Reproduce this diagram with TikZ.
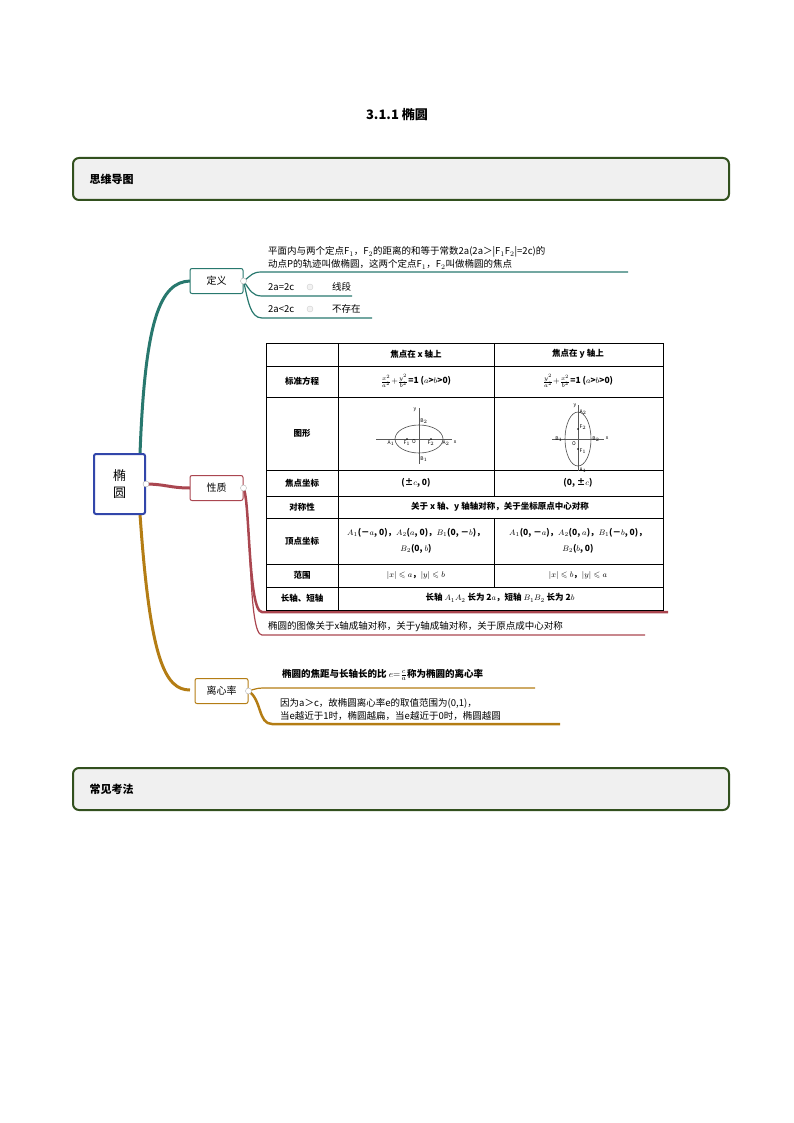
\documentclass[tikz,border=0pt]{standalone}
\usepackage{amssymb}
\usepackage{fontspec}
\setmainfont{Noto Sans CJK SC}
\usetikzlibrary{arrows.meta}
\definecolor{hdr}{RGB}{50,80,30}
\definecolor{teal1}{RGB}{40,120,110}
\definecolor{red1}{RGB}{170,70,80}
\definecolor{gold1}{RGB}{180,125,20}
\definecolor{blue1}{RGB}{50,70,170}
\tikzset{
 hbox/.style={draw=hdr,line width=2pt,rounded corners=6pt,fill=gray!12},
 kid/.style={draw=#1,line width=1pt,rounded corners=2pt,fill=white,minimum width=53pt,minimum height=25pt,font=\fontsize{10}{12}\selectfont},
 txt/.style={anchor=west,font=\fontsize{9.5}{13}\selectfont,inner sep=0pt,align=left},
 tb/.style={font=\fontsize{8.5}{10}\selectfont\bfseries,inner sep=0pt},
 lab/.style={font=\fontsize{5}{6}\selectfont\itshape,inner sep=0pt},
}
\begin{document}
\begin{tikzpicture}[x=1pt,y=-1pt]
\useasboundingbox (0,0) rectangle (794,1123);
\node[font=\fontsize{13}{15}\selectfont\bfseries] (title) at (397,115) {3.1.1 椭圆};
\draw[hbox] (73,158) rectangle (729,200);
\node[anchor=west,font=\fontsize{11}{13}\selectfont\bfseries] (h1) at (86,179) {思维导图};
\draw[hbox] (73,768) rectangle (729,810);
\node[anchor=west,font=\fontsize{11}{13}\selectfont\bfseries] (h2) at (86,789) {常见考法};
% branches
\coordinate (cT) at (140,454);
\coordinate (cM) at (145,484);
\coordinate (cB) at (140,514);
\draw[teal1,line width=3pt] (cT) .. controls (145,320) and (160,282) .. (190,281);
\draw[red1,line width=3pt] (cM) .. controls (165,484) and (170,488) .. (190,488);
\draw[gold1,line width=3pt] (cB) .. controls (150,660) and (165,690) .. (190,690);
\node[draw=blue1,line width=2pt,rounded corners=2pt,fill=white,minimum width=51pt,minimum height=60pt,align=center,font=\fontsize{13}{17}\selectfont] (root) at (119.5,484) {椭\\圆};
\node[kid=teal1] (dy) at (216.5,281) {定义};
\node[kid=red1] (xz) at (216.5,488) {性质};
\node[kid=gold1] (lxl) at (221.5,691) {离心率};
\draw[gray!70,fill=white] (root.east) circle (3pt);
% definition sub
\draw[teal1,line width=1.2pt] (dy.east) .. controls (252,275) and (252,272) .. (262,272) -- (628,272);
\draw[teal1,line width=1.2pt] (dy.east) .. controls (250,290) and (252,296) .. (262,296) -- (352,296);
\draw[teal1,line width=1.2pt] (dy.east) .. controls (248,300) and (250,318) .. (262,318) -- (372,318);
\draw[gray!60,fill=white] (dy.east) circle (3pt);
\node[txt] (d1) at (268,258) {平面内与两个定点F$_1$，F$_2$的距离的和等于常数2a(2a＞|F$_1$F$_2$|=2c)的\\动点P的轨迹叫做椭圆，这两个定点F$_1$，F$_2$叫做椭圆的焦点};
\node[txt] (d2) at (268,287) {2a=2c};
\draw[gray!40,fill=gray!10] (310,287) circle (3pt);
\node[txt] (d2b) at (332,287) {线段};
\node[txt] (d3) at (268,309) {2a<2c};
\draw[gray!40,fill=gray!10] (310,309) circle (3pt);
\node[txt] (d3b) at (332,309) {不存在};
% property
\draw[red1,line width=2.5pt] (xz.east) .. controls (250,500) and (248,612) .. (262,612) -- (668,612);
\draw[red1,line width=1.2pt] (xz.east) .. controls (252,520) and (248,635) .. (262,635) -- (645,635);
\draw[gray!60,fill=white] (xz.east) circle (3pt);
\node[txt] (p1) at (268,627) {椭圆的图像关于x轴成轴对称，关于y轴成轴对称，关于原点成中心对称};
% table
\fill[white] (266,343) rectangle (663,610);
\draw[line width=0.6pt] (266,343) rectangle (663,610);
\foreach \y in {366,397,470,496,518,564,587} \draw[line width=0.5pt] (266,\y) -- (663,\y);
\draw[line width=0.5pt] (338,343) -- (338,610);
\draw[line width=0.5pt] (494,343) -- (494,496) (494,518) -- (494,587);
\node[tb] (t01) at (416,354) {焦点在 \textit{x} 轴上};
\node[tb] (t02) at (578,354) {焦点在 \textit{y} 轴上};
\node[tb] (t10) at (302,381) {标准方程};
\node[tb] (t11) at (416,381) {$\frac{x^2}{a^2}{+}\frac{y^2}{b^2}$=1 ($a$>$b$>0)};
\node[tb] (t12) at (578,381) {$\frac{y^2}{a^2}{+}\frac{x^2}{b^2}$=1 ($a$>$b$>0)};
\node[tb] (t20) at (302,433) {图形};
\node[tb] (t30) at (302,483) {焦点坐标};
\node[tb] (t31) at (416,483) {(±$c$, 0)};
\node[tb] (t32) at (578,483) {(0, ±$c$)};
\node[tb] (t40) at (302,507) {对称性};
\node[tb] (t41) at (500,507) {关于 \textit{x} 轴、\textit{y} 轴轴对称，关于坐标原点中心对称};
\node[tb] (t50) at (302,541) {顶点坐标};
\node[tb,align=center,font=\fontsize{8.5}{16}\selectfont\bfseries] (t51) at (416,541) {$A_1$(－$a$, 0)，$A_2$($a$, 0)，$B_1$(0, －$b$)，\\$B_2$(0, $b$)};
\node[tb,align=center,font=\fontsize{8.5}{16}\selectfont\bfseries] (t52) at (578,541) {$A_1$(0, －$a$)，$A_2$(0, $a$)，$B_1$(－$b$, 0)，\\$B_2$($b$, 0)};
\node[tb] (t60) at (302,575) {范围};
\node[tb] (t61) at (416,575) {$|x|\leqslant a$，$|y|\leqslant b$};
\node[tb] (t62) at (578,575) {$|x|\leqslant b$，$|y|\leqslant a$};
\node[tb] (t70) at (302,598) {长轴、短轴};
\node[tb] (t71) at (500,598) {长轴 $A_1A_2$ 长为 2$a$，短轴 $B_1B_2$ 长为 2$b$};
% left figure
\begin{scope}[shift={(419,439)}]
\draw[gray!70!black,line width=0.5pt] (-43,0) -- (33,0) (0,-31) -- (0,25);
\draw[gray!60!black,line width=0.6pt] (0,0) ellipse (24 and 14);
\fill (-12,0) circle (0.8) (12,0) circle (0.8);
\node[lab] (la1) at (-28,4) {A$_1$};\node[lab] (lf1) at (-12,4) {F$_1$};
\node[lab] (lo) at (-5,3) {O};\node[lab] (lf2) at (12,4) {F$_2$};
\node[lab] (la2) at (27,4) {A$_2$};\node[lab] (lxx) at (36,3) {x};
\node[lab] (ly) at (-4,-29) {y};\node[lab] (lb2) at (5,-18) {B$_2$};\node[lab] (lb1) at (5,20) {B$_1$};
\end{scope}
% right figure
\begin{scope}[shift={(578,439)}]
\draw[gray!70!black,line width=0.5pt] (-26,0) -- (26,0) (0,-34) -- (0,32);
\draw[gray!60!black,line width=0.6pt] (0,0) ellipse (13 and 27);
\fill (0,-10) circle (0.8) (0,10) circle (0.8);
\node[lab] (ra2) at (5,-27) {A$_2$};\node[lab] (rf2) at (5,-12) {F$_2$};
\node[lab] (ro) at (-4,5) {O};\node[lab] (rf1) at (5,12) {F$_1$};
\node[lab] (ra1) at (5,31) {A$_1$};\node[lab] (rx) at (29,-1) {x};
\node[lab] (ry) at (-3,-33) {y};\node[lab] (rb1) at (-19,0) {B$_1$};\node[lab] (rb2) at (18,0) {B$_2$};
\end{scope}
% eccentricity
\draw[gold1,line width=1.2pt] (lxl.east) .. controls (258,688) and (258,688) .. (268,688) -- (535,688);
\draw[gold1,line width=2.5pt] (lxl.east) .. controls (262,700) and (258,724) .. (272,724) -- (560,724);
\draw[gray!60,fill=white] (lxl.east) circle (3pt);
\node[txt,font=\fontsize{9.5}{12}\selectfont\bfseries] (e1) at (282,675) {椭圆的焦距与长轴长的比 $e{=}\frac{c}{a}$称为椭圆的离心率};
\node[txt] (e2) at (280,709) {因为a＞c，故椭圆离心率e的取值范围为(0,1)，\\当e越近于1时，椭圆越扁，当e越近于0时，椭圆越圆};
\end{tikzpicture}
\end{document}
